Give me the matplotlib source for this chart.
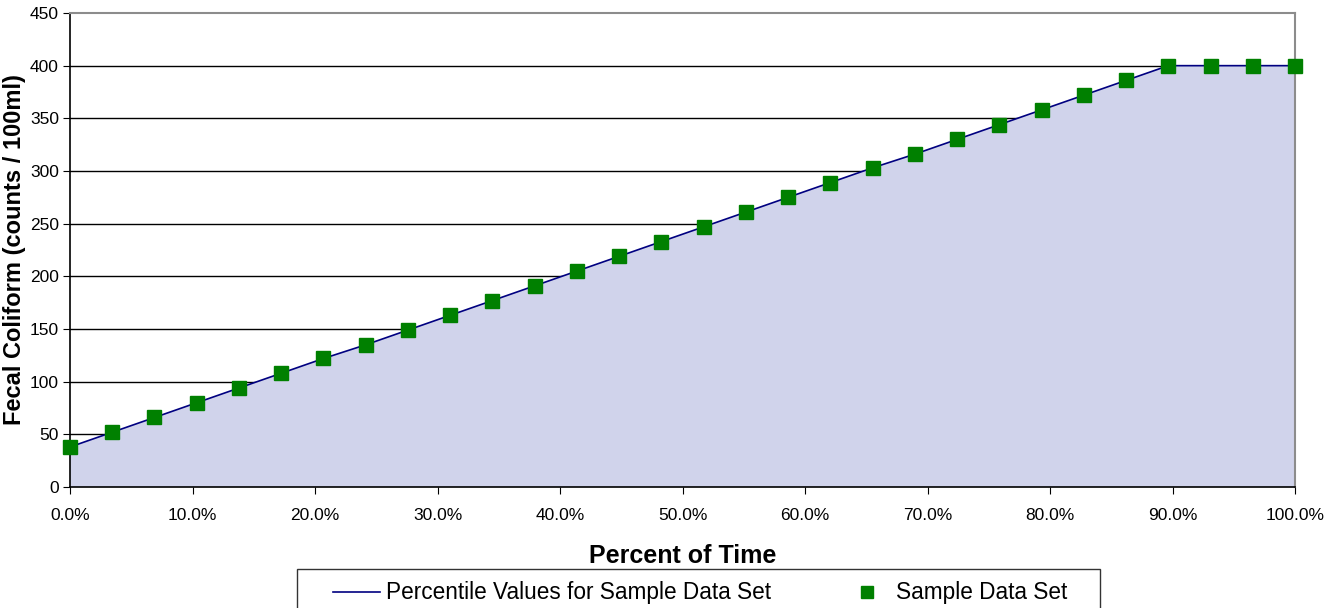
import matplotlib
matplotlib.use("Agg")
import matplotlib.pyplot as plt
from matplotlib.patches import Rectangle
from matplotlib.ticker import PercentFormatter, MultipleLocator

plt.rcParams['font.family'] = ['Liberation Sans', 'DejaVu Sans']

# Data
n_points = 30
percent_of_time = [i / (n_points - 1) for i in range(n_points)]
percentile_values = [38, 52, 66, 80, 94, 108, 122, 135, 149, 163, 177, 191, 205, 219, 233,
                     247, 261, 275, 289, 303, 316, 330, 344, 358, 372, 386, 400, 400, 400, 400]
sample_values = list(percentile_values)
y_ticks = [0, 50, 100, 150, 200, 250, 300, 350, 400, 450]

W, H = 1342, 608
fig = plt.figure(figsize=(W / 100, H / 100), dpi=100)
ax = fig.add_axes([70/W, 1-487/H, (1295-70)/W, (487-13)/H])

for y in y_ticks[1:-1]:
    ax.axhline(y, color='black', lw=1, zorder=0.5)
ax.fill_between(percent_of_time, percentile_values, 0, facecolor='#d0d3eb', edgecolor='none', zorder=1)
ax.plot(percent_of_time, percentile_values, color='#000080', lw=1.2, zorder=3,
        label='Percentile Values for Sample Data Set')
ax.plot(percent_of_time, sample_values, ls='none', marker='s', markersize=9.5,
        color='#008000', markeredgecolor='#008000', zorder=4, clip_on=False,
        label='Sample Data Set')

ax.set_xlim(0, 1)
ax.set_ylim(0, 450)
ax.set_yticks(y_ticks)
ax.xaxis.set_major_locator(MultipleLocator(0.1))
ax.xaxis.set_major_formatter(PercentFormatter(xmax=1, decimals=1))

for side in ['top', 'right']:
    ax.spines[side].set_color('#8c8c8c')
    ax.spines[side].set_linewidth(1.5)
for side in ['left', 'bottom']:
    ax.spines[side].set_color('black')
    ax.spines[side].set_linewidth(1.2)

ax.tick_params(axis='x', direction='out', length=5, pad=10, labelsize=12.5)
ax.tick_params(axis='y', direction='out', length=5, pad=3, labelsize=12.5)

ax.set_xlabel('Percent of Time', fontsize=18, fontweight='bold', labelpad=15)
ax.set_ylabel('Fecal Coliform (counts / 100ml)', fontsize=17, fontweight='bold')
ax.yaxis.set_label_coords((26 - 70) / 1225, 0.5)

# legend frame (extends past the bottom of the figure, as in the reference)
fig.patches.append(Rectangle((297/W, -0.05), (1100-297)/W, (1-569/H) + 0.05,
                             transform=fig.transFigure, facecolor='white',
                             edgecolor='#333333', lw=1, zorder=0))

leg = fig.legend(loc='center left', bbox_to_anchor=(333/W, 1-593/H),
                 ncol=2, frameon=False, fontsize=16.3, borderpad=0, borderaxespad=0,
                 columnspacing=3.2, handlelength=2.08, handletextpad=0.25)
leg.legend_handles[1].set_markersize(9)

fig.savefig('out.png', dpi=100)
